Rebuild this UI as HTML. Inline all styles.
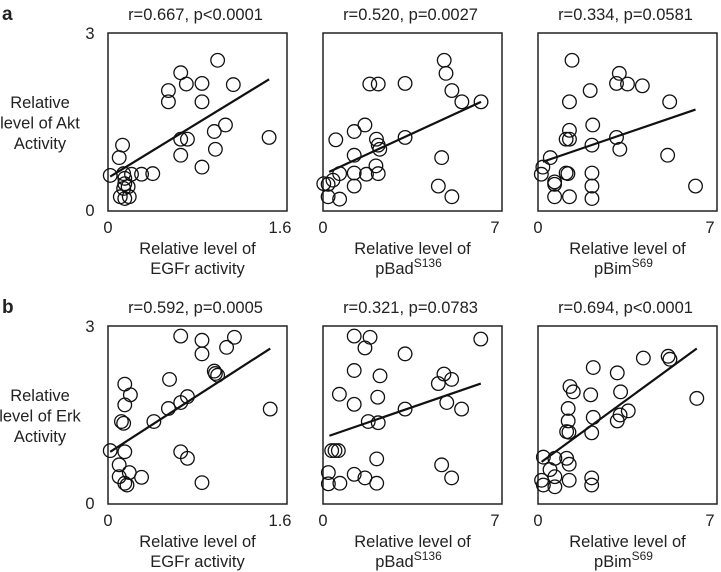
<!DOCTYPE html>
<html><head><meta charset="utf-8"><style>
body{margin:0;background:#fff;}
svg{display:block;font-family:"Liberation Sans",sans-serif;}
</style></head><body>
<svg id="c" width="721" height="572" viewBox="0 0 721 572"></svg>
<script>
const xMaxes=[1.6,7,7];
const yMax=3;
const xTickLabels=[["0","1.6"],["0","7"],["0","7"]];
const yTickLabels=["0","3"];
const rowLabels=["a","b"];
const yTitles=[["Relative","level of Akt","Activity"],["Relative","level of Erk","Activity"]];
const xTitles=[["EGFr activity",""],["pBad","S136"],["pBim","S69"]];
const stats=[["r=0.667, p<0.0001","r=0.520, p=0.0027","r=0.334, p=0.0581"],["r=0.592, p=0.0005","r=0.321, p=0.0783","r=0.694, p<0.0001"]];
const aktEgfr=[[0.98,2.54],[0.65,2.33],[0.70,2.14],[0.84,2.15],[1.12,2.13],[0.54,2.03],[0.54,1.84],[0.84,1.84],[1.05,1.45],[0.95,1.34],[1.44,1.24],[0.65,1.21],[0.71,1.21],[0.13,1.11],[0.96,1.04],[0.65,0.94],[0.10,0.90],[0.84,0.74],[0.02,0.60],[0.14,0.63],[0.21,0.62],[0.30,0.62],[0.40,0.63],[0.15,0.55],[0.15,0.46],[0.14,0.38],[0.18,0.41],[0.11,0.24],[0.15,0.21],[0.19,0.24]];
const aktBad=[[4.74,2.54],[4.81,2.32],[1.83,2.14],[2.16,2.14],[3.21,2.15],[5.04,2.03],[5.43,1.84],[6.18,1.84],[1.64,1.45],[1.22,1.34],[0.50,1.20],[2.09,1.21],[3.21,1.24],[2.16,1.11],[2.22,1.04],[1.22,0.94],[4.64,0.90],[2.07,0.76],[1.22,0.64],[0.65,0.63],[1.70,0.62],[2.16,0.63],[0.39,0.52],[0.20,0.45],[1.22,0.42],[4.51,0.42],[0.20,0.24],[0.65,0.20],[5.04,0.24],[0.03,0.46]];
const aktBim=[[1.33,2.54],[3.18,2.32],[3.07,2.15],[3.50,2.14],[4.08,2.11],[2.04,2.03],[1.23,1.84],[5.15,1.84],[2.14,1.45],[1.23,1.36],[1.10,1.21],[1.23,1.21],[3.07,1.24],[2.11,1.11],[3.20,1.04],[0.48,0.90],[5.07,0.94],[0.19,0.74],[0.13,0.62],[1.10,0.64],[1.17,0.63],[2.11,0.64],[0.65,0.49],[0.65,0.45],[2.11,0.42],[6.16,0.42],[0.65,0.24],[1.23,0.24],[2.11,0.21]];
const erkEgfr=[[0.65,2.83],[0.84,2.76],[1.13,2.81],[1.06,2.64],[0.84,2.53],[0.95,2.24],[0.98,2.17],[0.96,2.20],[0.55,2.10],[0.15,2.02],[0.20,1.84],[0.15,1.67],[0.71,1.81],[0.65,1.71],[0.54,1.61],[0.12,1.39],[0.14,1.36],[0.41,1.39],[1.45,1.60],[0.02,0.90],[0.15,0.88],[0.65,0.88],[0.71,0.77],[0.10,0.66],[0.19,0.53],[0.10,0.46],[0.30,0.45],[0.15,0.35],[0.17,0.32],[0.84,0.36]];
const erkBad=[[1.22,2.83],[1.84,2.81],[1.64,2.63],[3.21,2.53],[6.17,2.78],[1.22,2.25],[2.23,2.16],[4.73,2.19],[5.03,2.10],[4.51,2.03],[0.64,1.85],[2.14,1.80],[1.22,1.68],[4.84,1.71],[5.42,1.60],[3.21,1.60],[1.77,1.39],[2.16,1.37],[0.34,0.90],[0.47,0.90],[0.60,0.90],[2.10,0.76],[4.64,0.66],[5.03,0.44],[0.21,0.53],[0.21,0.34],[0.66,0.35],[1.22,0.50],[1.64,0.44],[2.10,0.35]];
const erkBim=[[4.12,2.46],[5.09,2.49],[5.16,2.44],[2.16,2.30],[3.10,2.21],[6.21,1.78],[1.25,1.98],[1.38,1.89],[2.06,1.84],[3.23,1.89],[1.18,1.61],[2.16,1.46],[3.53,1.57],[3.21,1.50],[3.10,1.40],[1.18,1.40],[1.12,1.22],[1.21,1.21],[2.10,1.20],[0.21,0.79],[0.66,0.77],[1.12,0.77],[1.22,0.67],[0.47,0.58],[0.66,0.46],[0.14,0.40],[0.21,0.32],[0.66,0.29],[1.22,0.40],[2.10,0.44],[2.10,0.32]];
const series=[[aktEgfr,aktBad,aktBim],[erkEgfr,erkBad,erkBim]];
const fitLines=[[[0.02,0.58,1.44,2.22],[0.24,0.66,6.18,1.84],[0.19,0.83,6.16,1.71]],[[0.02,0.88,1.45,2.62],[0.25,1.15,6.17,2.03],[0.14,0.71,6.21,2.62]]];

const NS="http://www.w3.org/2000/svg";
const svg=document.getElementById('c');
const lefts=[108,323,538], tops=[33,326], W=179, H=178;
const FS=16.5;
function mk(tag,attrs,parent,text){const e=document.createElementNS(NS,tag);for(const k in attrs)e.setAttribute(k,attrs[k]);if(text!==undefined)e.textContent=text;(parent||svg).appendChild(e);return e;}
function txt(x,y,s,parent,anchor,size,weight){return mk('text',{x:x,y:y,'text-anchor':anchor||'middle','font-size':size||FS,'font-weight':weight||'normal',fill:'#222'},parent,s);}

for(let r=0;r<2;r++){
  const top=tops[r];
  const lab=txt(2,top-13,rowLabels[r],svg,'start',19,'bold');
  
  
  const yt=mk('g',{},svg);
  
  
  yTitles[r].forEach((s,i)=>txt(40,top+75+i*20.5,s,yt));
  for(let c=0;c<3;c++){
    const L=lefts[c];
    const sx=v=>L+v/xMaxes[c]*W;
    const sy=v=>top+H-v/yMax*H;
    const g=mk('g',{},svg);
    
    
    const t=txt(L+W/2-2,top-13,stats[r][c],g);
    
    
    const box=mk('rect',{x:L,y:top,width:W,height:H,fill:'none',stroke:'#222','stroke-width':1.5},g);
    
    
    if(c===0){
      txt(L-18,sy(yMax)+6,yTickLabels[1],g);
      txt(L-18,sy(0)+5,yTickLabels[0],g);
    }
    txt(sx(0),top+H+22,xTickLabels[c][0],g);
    txt(sx(xMaxes[c])-7,top+H+22,xTickLabels[c][1],g);
    const xt=mk('g',{},g);
    
    
    txt(L+W/2,top+H+43,'Relative level of',xt);
    if(xTitles[c][1]===''){txt(L+W/2,top+H+63,xTitles[c][0],xt);}
    else{
      const tt=mk('text',{x:L+W/2-4,y:top+H+63,'text-anchor':'middle','font-size':FS,fill:'#222'},xt);
      mk('tspan',{},tt,xTitles[c][0]);
      mk('tspan',{dy:-7,'font-size':12},tt,xTitles[c][1]);
    }
    series[r][c].forEach(p=>{
      const ci=mk('circle',{cx:sx(p[0]),cy:sy(p[1]),r:6.8,fill:'none',stroke:'#111','stroke-width':1.3},g);
      
      
    });
    const f=fitLines[r][c];
    const ln=mk('line',{x1:sx(f[0]),y1:sy(f[1]),x2:sx(f[2]),y2:sy(f[3]),stroke:'#111','stroke-width':2.2},g);
    
    
  }
}
</script>
</body></html>
